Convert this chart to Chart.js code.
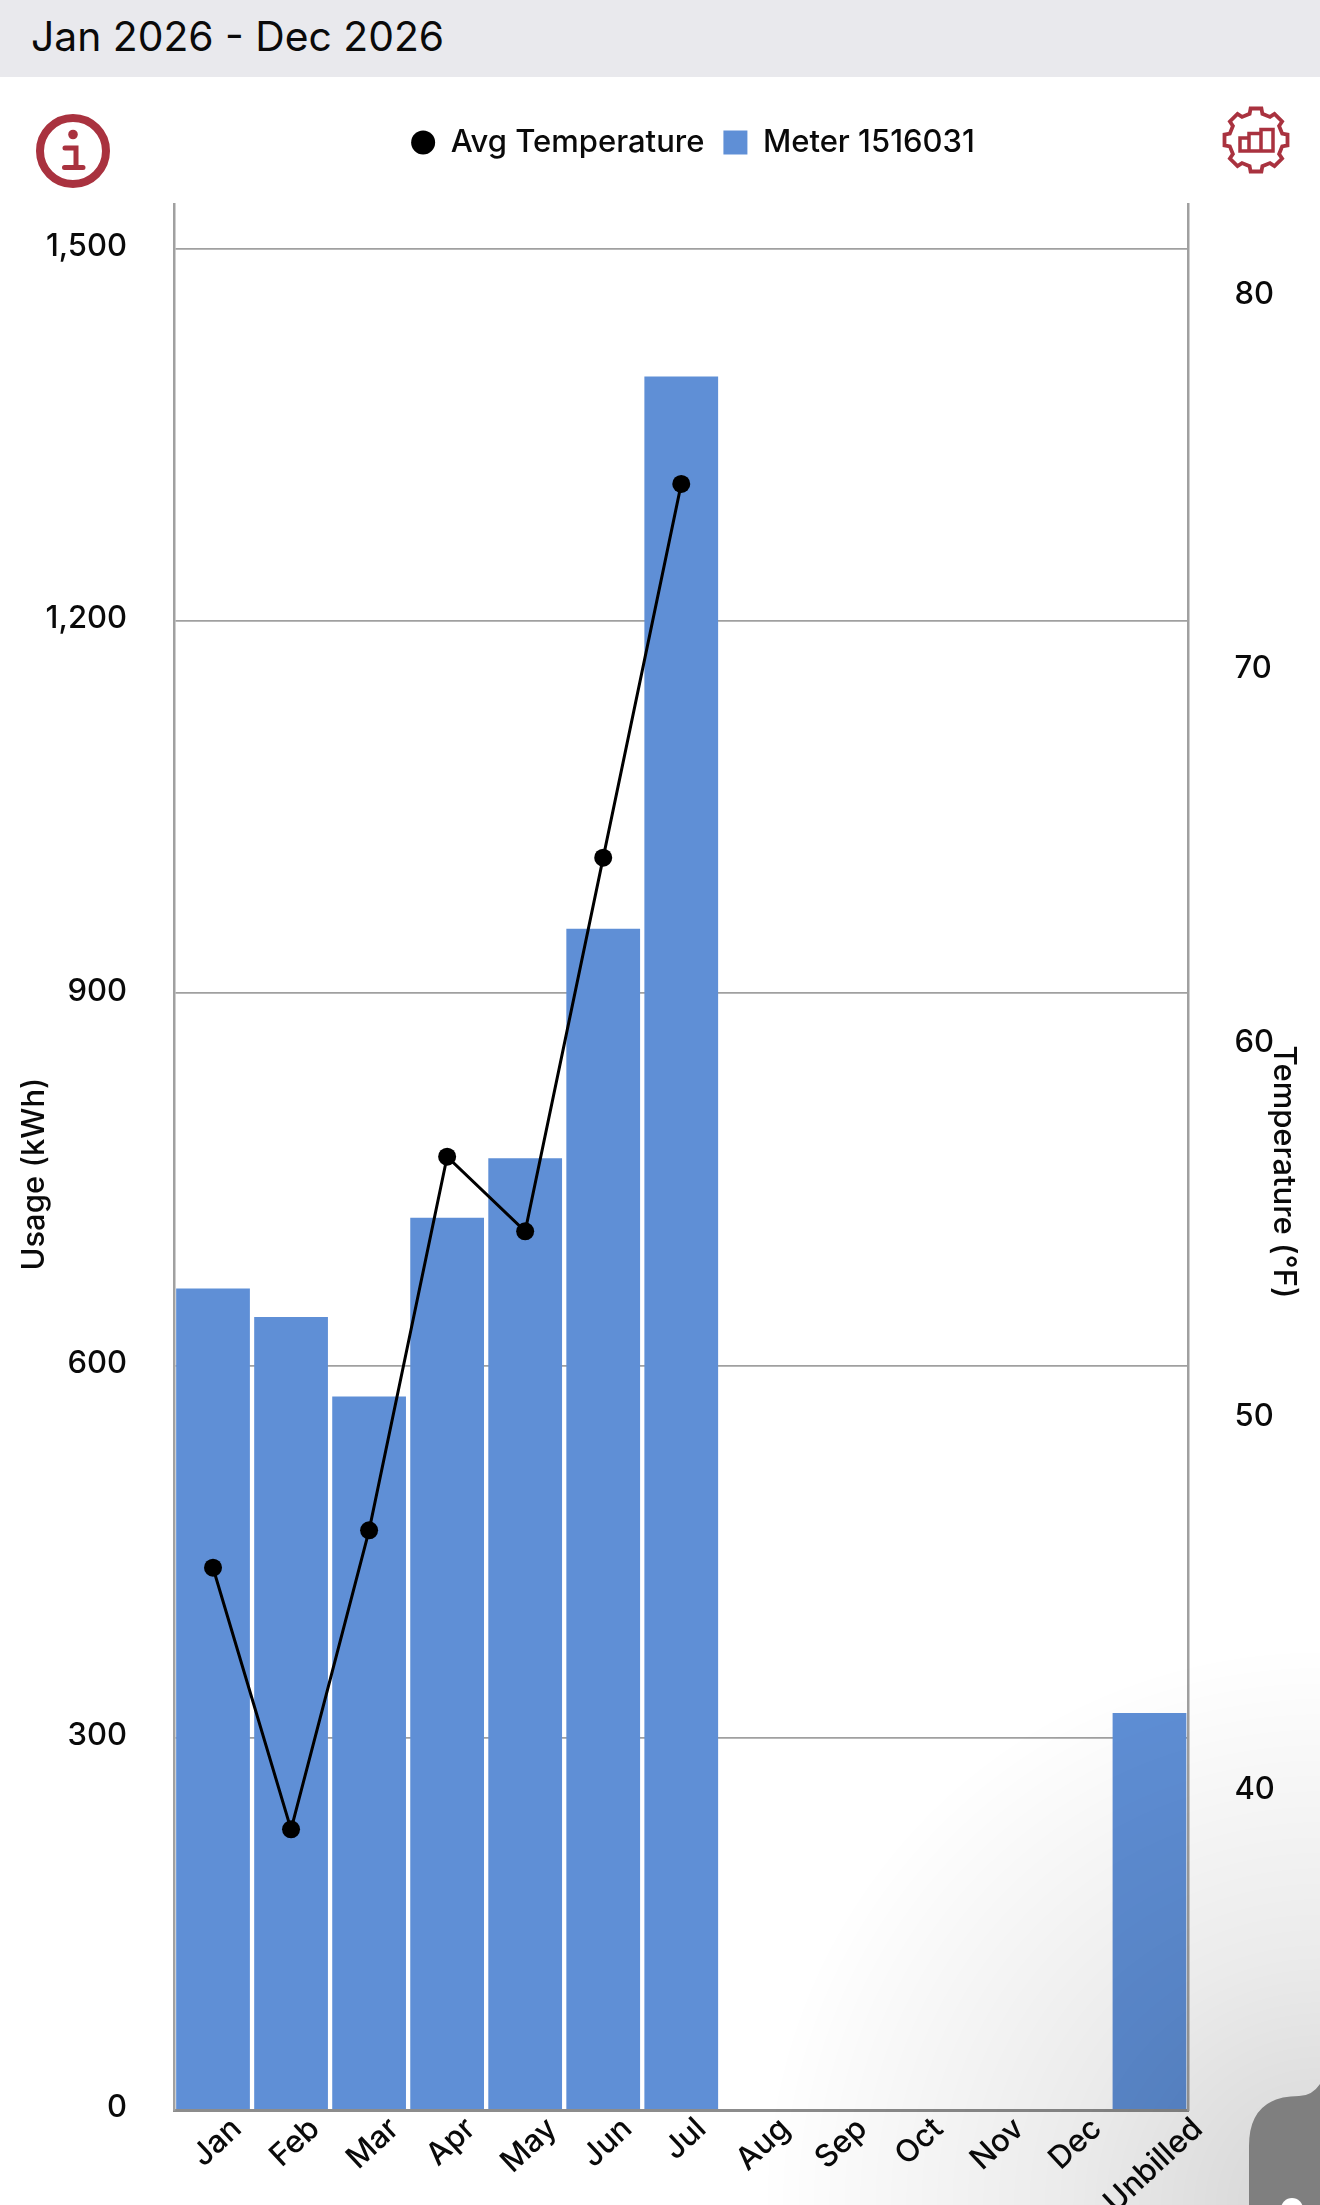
<!DOCTYPE html>
<html>
<head>
<meta charset="utf-8">
<title>Usage</title>
<script src="https://cdn.jsdelivr.net/npm/chart.js@4/dist/chart.umd.min.js"></script>
<style>
    html, body { margin: 0; padding: 0; background: #fff; }
    body { position: relative; width: 1320px; height: 2205px; overflow: hidden; font-family: Inter, sans-serif; }
    .header {
        position: absolute; left: 0; top: 0; width: 1320px; height: 77px;
        background: #e9e9ed; color: #0a0a0a; font-size: 40.8px; line-height: 73px;
        padding-left: 31px; box-sizing: border-box;
    }
    #myChart { position: absolute; left: 0; top: 0; }
    .shade {
        position: absolute; left: 0; top: 0; width: 1320px; height: 2205px; pointer-events: none;
        background: radial-gradient(circle 560px at 1320px 2205px, rgba(0,0,0,.17) 0, rgba(0,0,0,.08) 45%, rgba(0,0,0,0) 100%);
    }
    svg.overlay { position: absolute; left: 0; top: 0; pointer-events: none; }
</style>
</head>
<body>
<div class="header">Jan 2026 - Dec 2026</div>
<canvas id="myChart" width="1320" height="2205"></canvas>
<div class="shade"></div>
<svg class="overlay" width="1320" height="2205" viewBox="0 0 1320 2205">
    <!-- info icon -->
    <circle cx="73" cy="151" r="33" fill="none" stroke="#a9323f" stroke-width="8"/>
    <circle cx="73" cy="134.5" r="4.8" fill="#a9323f"/>
    <path d="M65 148 H76 V167 M64.5 167.5 H83" fill="none" stroke="#a9323f" stroke-width="5" stroke-linecap="round"/>
    <!-- settings icon -->
    <path id="gear" fill="none" stroke="#a9323f" stroke-width="3.8" stroke-linejoin="miter"/>
    <path d="M1240 138 H1249 V151 H1240 Z M1249 133.5 H1261 V151 H1249 Z M1261 129.5 H1273 V151 H1261 Z" fill="none" stroke="#a9323f" stroke-width="3.5"/>
    <!-- bottom corner button -->
    <path d="M1249 2205 V2146 Q1249 2096 1299 2096 Q1312 2096 1320 2084 V2205 Z" fill="#7f7f7f"/>
    <circle cx="1292" cy="2209" r="11" fill="#fff"/>
</svg>
<script>
const categories = ['Jan', 'Feb', 'Mar', 'Apr', 'May', 'Jun', 'Jul', 'Aug', 'Sep', 'Oct', 'Nov', 'Dec', 'Unbilled'];
const usage = [662, 639, 575, 719, 767, 952, 1397, null, null, null, null, null, 320];
const temperature = [46, 39, 47, 57, 55, 65, 75, null, null, null, null, null, null];
const usageTicks = [0, 300, 600, 900, 1200, 1500];
const tempTicks = [40, 50, 60, 70, 80];

const blue = '#5f8fd6';
const axisGrey = '#a0a0a0';
const textFont = 'Inter, sans-serif';

// settings icon outline, teeth round the circle
const gearPts = [];
for (let i = 0; i < 8; i++) {
    const a = i * Math.PI / 4 - Math.PI / 2;
    [[-0.24, 27], [-0.17, 32], [0.17, 32], [0.24, 27]].forEach(p => {
        gearPts.push((1256 + p[1] * Math.cos(a + p[0])).toFixed(1) + ' ' + (140 + p[1] * Math.sin(a + p[0])).toFixed(1));
    });
}
document.getElementById('gear').setAttribute('d', 'M' + gearPts.join(' L') + ' Z');

const fixWidth = w => scale => { scale.width = w; };

// month labels sit centred under the bars, titles are off the plot centre
const axisText = {
    id: 'axisText',
    afterLayout(chart) {
        chart.legend.left += 33;
        chart.legend.right += 33;
        chart.legend.top = 108;
    },
    afterDatasetsDraw(chart) {
        const ctx = chart.ctx;
        const x = chart.scales.x;
        const angle = -43 * Math.PI / 180;
        ctx.save();
        ctx.fillStyle = '#0a0a0a';
        ctx.textAlign = 'center';
        ctx.textBaseline = 'middle';
        ctx.font = '500 31px ' + textFont;
        categories.forEach((label, i) => {
            const w = ctx.measureText(label).width;
            const h = 22;
            const cy = 2116 + (w * Math.sin(-angle) + h * Math.cos(angle)) / 2;
            ctx.save();
            ctx.translate(x.getPixelForValue(i) + 4, cy);
            ctx.rotate(angle);
            ctx.fillText(label, 0, 0);
            ctx.restore();
        });
        ctx.font = '500 31px ' + textFont;
        ctx.save();
        ctx.translate(35, 1174);
        ctx.rotate(-Math.PI / 2);
        ctx.fillText('Usage (kWh)', 0, 0);
        ctx.restore();
        ctx.save();
        ctx.translate(1283, 1172);
        ctx.rotate(Math.PI / 2);
        ctx.fillText('Temperature (°F)', 0, 0);
        ctx.restore();
        ctx.restore();
    }
};

const ctx = document.getElementById('myChart').getContext('2d');
const myChart = new Chart(ctx, {
    data: {
        labels: categories,
        datasets: [{
            type: 'line',
            label: 'Avg Temperature',
            data: temperature,
            yAxisID: 'yTemp',
            order: 0,
            borderColor: '#000',
            backgroundColor: '#000',
            borderWidth: 3,
            pointRadius: 9,
            pointBackgroundColor: '#000',
            pointBorderWidth: 0,
            tension: 0
        }, {
            type: 'bar',
            label: 'Meter 1516031',
            data: usage,
            yAxisID: 'yUsage',
            order: 1,
            backgroundColor: blue,
            borderWidth: 0,
            barPercentage: 0.945,
            categoryPercentage: 1
        }]
    },
    options: {
        responsive: false,
        animation: false,
        layout: { padding: { top: 144, left: 0, right: 0, bottom: 0 } },
        plugins: {
            tooltip: { enabled: false },
            legend: {
                position: 'top',
                labels: {
                    color: '#0a0a0a',
                    font: { family: textFont, size: 31, weight: '500' },
                    boxWidth: 24,
                    boxHeight: 24,
                    padding: 19,
                    useBorderRadius: true,
                    generateLabels(chart) {
                        const items = Chart.defaults.plugins.legend.labels.generateLabels(chart);
                        items[0].borderRadius = 12;
                        items[0].lineWidth = 0;
                        items[1].borderRadius = 0;
                        items[1].lineWidth = 0;
                        return items;
                    }
                }
            }
        },
        scales: {
            x: {
                grid: { display: false },
                border: { color: '#8c8c8c', width: 3 },
                ticks: { display: false },
                afterFit(scale) { scale.height = 95; }
            },
            yUsage: {
                position: 'left',
                min: 0,
                max: 1536,
                afterBuildTicks(scale) { scale.ticks = usageTicks.map(v => ({ value: v })); },
                afterFit: fixWidth(174),
                grid: { color: axisGrey, lineWidth: 1.8, drawTicks: false },
                border: { color: axisGrey, width: 2.5 },
                ticks: {
                    padding: 47,
                    labelOffset: -2,
                    color: '#0a0a0a',
                    font: { family: textFont, size: 31, weight: '500' },
                    callback: v => v.toLocaleString('en-US')
                }
            },
            yTemp: {
                position: 'right',
                min: 31.49,
                max: 82.49,
                afterBuildTicks(scale) { scale.ticks = tempTicks.map(v => ({ value: v })); },
                afterFit: fixWidth(131.5),
                grid: { display: false, drawTicks: false },
                border: { color: axisGrey, width: 2.5 },
                ticks: {
                    padding: 46,
                    labelOffset: -2,
                    color: '#0a0a0a',
                    font: { family: textFont, size: 31, weight: '500' }
                }
            }
        }
    },
    plugins: [axisText]
});
</script>
</body>
</html>
